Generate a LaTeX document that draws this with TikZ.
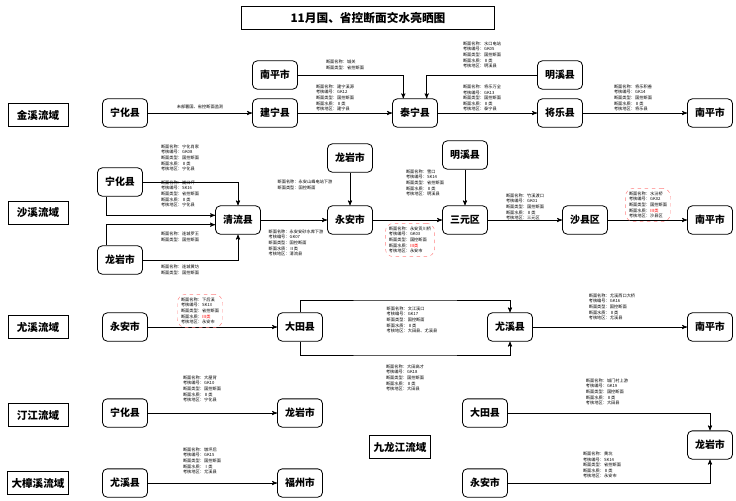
\documentclass[tikz,border=0pt]{standalone}
\usepackage{fontspec}
\setmainfont{Noto Sans CJK SC}
\usetikzlibrary{arrows}

\newcommand{\info}[5]{断面名称：#1\\考核编号：#2\\断面类型：#3\\断面水质：#4\\考核地区：#5}
\newcommand{\infotwo}[2]{断面名称：#1\\断面类型：#2}

\begin{document}
\begin{tikzpicture}[x=0.03cm,y=-0.03cm,
    >=stealth',
    city/.style = {
      draw,
      line width = 0.7pt,
      rounded corners = 4pt,
      minimum width = 1.35cm,
      minimum height = 0.85cm,
      font = \fontsize{8.5}{10}\selectfont\bfseries
    },
    basin/.style = {
      draw,
      line width = 0.7pt,
      minimum width = 1.8cm,
      minimum height = 0.7cm,
      font = \fontsize{9}{10}\selectfont\bfseries
    },
    info/.style = {
      align = left,
      inner sep = 1pt,
      font = \fontsize{3.6}{4.8}\selectfont
    },
    warn/.style = {
      info,
      draw = red!50,
      dashed,
      thin,
      rounded corners = 7pt,
      inner sep = 3pt
    },
    flow/.style = {->, line width=0.6pt}
  ]
  \useasboundingbox (0,0) rectangle (736,500);

  \node[basin, minimum width=7.6cm, font=\fontsize{10}{12}\selectfont\bfseries] (title) at (368,18) {11月国、省控断面交水亮晒图};

  % basins
  \node[basin] (jx) at (38,115) {金溪流域};
  \node[basin] (sx) at (38,213) {沙溪流域};
  \node[basin] (yx) at (38,327) {尤溪流域};
  \node[basin] (tj) at (38,415) {汀江流域};
  \node[basin] (dz) at (38,483) {大樟溪流域};
  \node[basin] (jl) at (400,447) {九龙江流域};

  % row 1
  \node[city] (nh1) at (125,113) {宁化县};
  \node[city] (jn)  at (275,113) {建宁县};
  \node[city] (np1) at (275,75)  {南平市};
  \node[city] (tn)  at (415,113) {泰宁县};
  \node[city] (mx1) at (560,75)  {明溪县};
  \node[city] (jl1) at (560,113) {将乐县};
  \node[city] (np2) at (710,113) {南平市};

  \draw[flow] (nh1) -- node[above, info, yshift=2pt] {未部署国、省控断面监测} (jn);
  \draw[flow] (jn) -- (tn);
  \draw[flow] (np1.east) -| ([xshift=-10pt]tn.north);
  \draw[flow] (mx1.west) -| ([xshift=10pt]tn.north);
  \draw[flow] (tn) -- (jl1);
  \draw[flow] (jl1) -- (np2);

  \node[info] at (345,65)  {\infotwo{城关}{省控断面}};
  \node[info] at (335,98)  {\info{建宁溪源}{GK12}{国控断面}{Ⅱ类}{建宁县}};
  \node[info] at (482,55)  {\info{水口电站}{GK05}{国控断面}{Ⅱ类}{明溪县}};
  \node[info] at (482,98)  {\info{将乐万全}{GK13}{国控断面}{Ⅱ类}{泰宁县}};
  \node[info] at (633,98)  {\info{将乐积善}{GK14}{国控断面}{Ⅱ类}{将乐县}};

  % row 2
  \node[city] (nh2) at (120,182) {宁化县};
  \node[city] (ly1) at (120,260) {龙岩市};
  \node[city] (ql)  at (238,220) {清流县};
  \node[city] (ly2) at (350,158) {龙岩市};
  \node[city] (ya1) at (350,220) {永安市};
  \node[city] (mx2) at (465,155) {明溪县};
  \node[city] (sy)  at (465,220) {三元区};
  \node[city] (sxq) at (585,220) {沙县区};
  \node[city] (np3) at (710,220) {南平市};

  \draw[flow] (nh2.east) -| (ql.north);
  \draw[flow] ([xshift=-12pt]nh2.south) |- ([yshift=4pt]ql.west);
  \draw[flow] ([xshift=-12pt]ly1.north) |- ([yshift=-4pt]ql.west);
  \draw[flow] (ly1.east) -| (ql.south);
  \draw[flow] (ql) -- (ya1);
  \draw[flow] (ly2) -- (ya1);
  \draw[flow] (ya1) -- (sy);
  \draw[flow] (mx2) -- (sy);
  \draw[flow] (sy) -- (sxq);
  \draw[flow] (sxq) -- (np3);

  \node[info] at (180,158) {\info{宁化肖家}{GK08}{国控断面}{Ⅱ类}{宁化县}};
  \node[info] at (180,194) {\info{嵩口坪}{SK16}{省控断面}{Ⅱ类}{宁化县}};
  \node[info] at (180,237) {\infotwo{连城罗王}{国控断面}};
  \node[info] at (180,270) {\infotwo{连城黄坊}{国控断面}};
  \node[info] at (296,243) {\info{永安安砂水库下游}{GK07}{国控断面}{Ⅱ类}{清流县}};
  \node[info] at (305,185) {\infotwo{永安山峰电站下游}{国控断面}};
  \node[warn] at (410,240) {断面名称：永安贡川桥\\考核编号：GK03\\断面类型：国控断面\\断面水质：\textcolor{red}{Ⅲ类}\\考核地区：永安市};
  \node[info] at (425,183) {\info{雪口}{SK14}{省控断面}{Ⅱ类}{明溪县}};
  \node[info] at (525,207) {\info{竹溪渡口}{GK01}{国控断面}{Ⅱ类}{三元区}};
  \node[warn] at (648,205) {断面名称：水汾桥\\考核编号：GK02\\断面类型：国控断面\\断面水质：\textcolor{red}{Ⅲ类}\\考核地区：沙县区};

  % row 3
  \node[city] (ya2) at (125,327) {永安市};
  \node[city] (dt1) at (300,327) {大田县};
  \node[city] (yxx) at (510,327) {尤溪县};
  \node[city] (np4) at (710,327) {南平市};

  \draw[flow] (ya2) -- (dt1);
  \draw[flow] (dt1.north) |- (405,300) -| (yxx.north);
  \draw[flow] (dt1.south) |- (405,355) -| (yxx.south);
  \draw[flow] (yxx) -- (np4);

  \node[warn] at (200,311) {断面名称：下后溪\\考核编号：SK13\\断面类型：省控断面\\断面水质：\textcolor{red}{Ⅲ类}\\考核地区：永安市};
  \node[info] at (412,320) {\info{文江溪口}{GK17}{国控断面}{Ⅱ类}{大田县、尤溪县}};
  \node[info] at (405,378) {\info{大田高才}{GK18}{国控断面}{Ⅱ类}{大田县}};
  \node[info] at (612,307) {\info{尤溪西口大桥}{GK16}{国控断面}{Ⅱ类}{尤溪县}};

  % row 4 and 5
  \node[city] (nh3) at (125,413) {宁化县};
  \node[city] (ly3) at (300,413) {龙岩市};
  \node[city] (dt2) at (485,413) {大田县};
  \node[city] (ly4) at (710,445) {龙岩市};
  \node[city] (ya3) at (485,483) {永安市};
  \node[city] (yx2) at (125,483) {尤溪县};
  \node[city] (fz)  at (300,483) {福州市};

  \draw[flow] (nh3) -- (ly3);
  \draw[flow] (dt2.east) -| (ly4.north);
  \draw[flow] (ya3.east) -| (ly4.south);
  \draw[flow] (yx2) -- (fz);

  \node[info] at (202,389) {\info{大屋背}{GK10}{国控断面}{Ⅱ类}{宁化县}};
  \node[info] at (202,461) {\info{墩坪后}{GK15}{国控断面}{Ⅰ类}{尤溪县}};
  \node[info] at (607,392) {\info{城门村上游}{GK19}{国控断面}{Ⅱ类}{大田县}};
  \node[info] at (602,465) {\info{黄坑}{SK14}{省控断面}{Ⅱ类}{永安市}};
\end{tikzpicture}
\end{document}
